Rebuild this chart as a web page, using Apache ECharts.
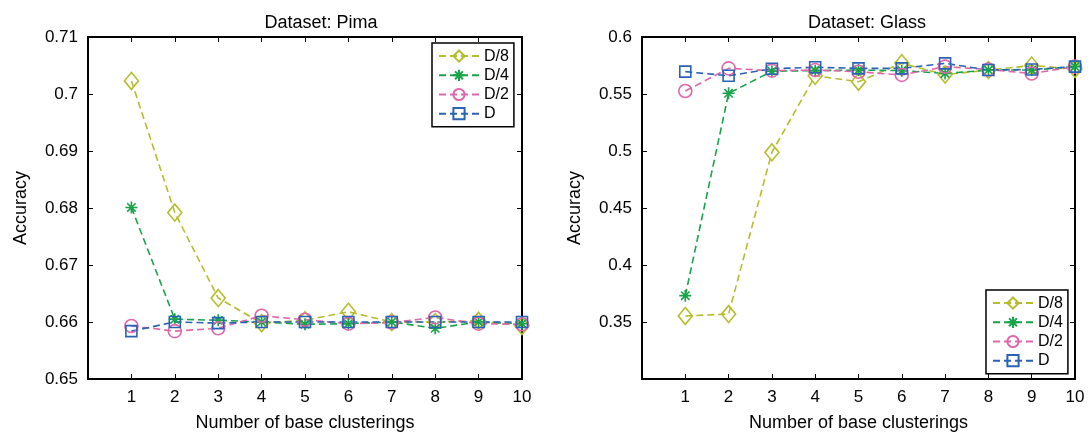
<!DOCTYPE html>
<html>
<head>
<meta charset="utf-8">
<script src="https://cdn.jsdelivr.net/npm/echarts@6/dist/echarts.min.js"></script>
<style>
html, body { margin: 0; padding: 0; background: #fff; }
#main { width: 1088px; height: 438px; }
</style>
</head>
<body>
<div id="main"></div>
<script>
var dom = document.getElementById("main");
var myChart = echarts.init(dom);

// number of base clusterings
var xValues = [1, 2, 3, 4, 5, 6, 7, 8, 9, 10];
var seriesNames = ['D/8', 'D/4', 'D/2', 'D'];

// Dataset: Pima
var pimaD8 = [0.7023, 0.6792, 0.6642, 0.6598, 0.6603, 0.6618, 0.6600, 0.6600, 0.6602, 0.6593];
var pimaD4 = [0.6801, 0.6605, 0.6603, 0.6600, 0.6596, 0.6597, 0.6600, 0.6589, 0.6600, 0.6597];
var pimaD2 = [0.6593, 0.6584, 0.6589, 0.6611, 0.6604, 0.6597, 0.6599, 0.6608, 0.6597, 0.6596];
var pimaD  = [0.6584, 0.6600, 0.6598, 0.6600, 0.6600, 0.6600, 0.6600, 0.6600, 0.6600, 0.6600];

// Dataset: Glass
var glassD8 = [0.3553, 0.3570, 0.4989, 0.5660, 0.5608, 0.5770, 0.5670, 0.5710, 0.5750, 0.5720];
var glassD4 = [0.3731, 0.5506, 0.5700, 0.5705, 0.5710, 0.5705, 0.5680, 0.5710, 0.5710, 0.5740];
var glassD2 = [0.5526, 0.5725, 0.5705, 0.5710, 0.5695, 0.5667, 0.5740, 0.5715, 0.5680, 0.5740];
var glassD  = [0.5696, 0.5660, 0.5721, 0.5734, 0.5725, 0.5725, 0.5769, 0.5710, 0.5715, 0.5740];

var colors = ['#b5bd2c', '#18a24a', '#de68aa', '#2a62b6'];
var symbols = [
    'diamond',
    'path://M0,-10L0,10M-10,0L10,0M-7,-7L7,7M-7,7L7,-7',
    'circle',
    'rect'
];
var symbolSizes = [[14, 17], 12, 13, 11];

var font = 'Liberation Sans, Arial, Helvetica, sans-serif';

function pairs(values) {
    return xValues.map(function (x, i) { return [x, values[i]]; });
}

function makeSeries(grid, data) {
    return data.map(function (values, k) {
        return {
            name: seriesNames[k],
            type: 'line',
            xAxisIndex: grid * 2,
            yAxisIndex: grid * 2,
            data: pairs(values),
            symbol: symbols[k],
            symbolSize: symbolSizes[k],
            showAllSymbol: true,
            animation: false,
            lineStyle: { color: colors[k], width: 1.6, type: [7, 4] },
            itemStyle: { color: 'none', borderColor: colors[k], borderWidth: 1.6 },
            emphasis: { disabled: true }
        };
    });
}

function xAxes(grid) {
    return [{
        type: 'value', gridIndex: grid, min: 0, max: 10, interval: 1,
        name: 'Number of base clusterings', nameLocation: 'middle', nameGap: 35,
        nameTextStyle: { fontFamily: font, fontSize: 18, color: '#000' },
        axisLine: { lineStyle: { color: '#000', width: 2 } },
        axisTick: { inside: true, length: 5, lineStyle: { color: '#000' } },
        axisLabel: { showMinLabel: false, fontFamily: font, fontSize: 17, color: '#000', margin: 10 },
        splitLine: { show: false }
    }, {
        type: 'value', gridIndex: grid, position: 'top', min: 0, max: 10, interval: 1,
        axisLine: { onZero: false, lineStyle: { color: '#000', width: 2 } },
        axisTick: { inside: true, length: 5, lineStyle: { color: '#000' } },
        axisLabel: { show: false },
        splitLine: { show: false }
    }];
}

function yAxes(grid, min, max, interval) {
    return [{
        type: 'value', gridIndex: grid, min: min, max: max, interval: interval,
        name: 'Accuracy', nameLocation: 'middle', nameGap: 58,
        nameTextStyle: { fontFamily: font, fontSize: 18, color: '#000' },
        axisLine: { show: true, lineStyle: { color: '#000', width: 2 } },
        axisTick: { show: true, inside: true, length: 5, lineStyle: { color: '#000' } },
        axisLabel: { showMinLabel: grid === 0, fontFamily: font, fontSize: 17, color: '#000', margin: 10 },
        splitLine: { show: false }
    }, {
        type: 'value', gridIndex: grid, position: 'right', min: min, max: max, interval: interval,
        axisLine: { show: true, onZero: false, lineStyle: { color: '#000', width: 2 } },
        axisTick: { show: true, inside: true, length: 5, lineStyle: { color: '#000' } },
        axisLabel: { show: false },
        splitLine: { show: false }
    }];
}

function makeLegend(pos) {
    return Object.assign({
        orient: 'vertical',
        data: seriesNames,
        selectedMode: false,
        backgroundColor: '#fff',
        borderColor: '#000',
        borderWidth: 1.5,
        padding: [5, 5, 5, 6],
        itemWidth: 40,
        itemHeight: 14,
        itemGap: 3,
        textStyle: { fontFamily: font, fontSize: 16, color: '#000' }
    }, pos);
}

option = {
    backgroundColor: '#fff',
    title: [{
        text: 'Dataset: Pima', left: 316, top: 9, textAlign: 'center',
        textStyle: { fontFamily: font, fontSize: 18, fontWeight: 'normal', color: '#000' }
    }, {
        text: 'Dataset: Glass', left: 862, top: 9, textAlign: 'center',
        textStyle: { fontFamily: font, fontSize: 18, fontWeight: 'normal', color: '#000' }
    }],
    legend: [
        makeLegend({ left: 432, top: 43 }),
        makeLegend({ left: 986, top: 290 })
    ],
    grid: [
        { left: 88, right: 566, top: 37, bottom: 59 },
        { left: 642, right: 13, top: 37, bottom: 59 }
    ],
    xAxis: xAxes(0).concat(xAxes(1)),
    yAxis: yAxes(0, 0.65, 0.71, 0.01).concat(yAxes(1, 0.3, 0.6, 0.05)),
    series: makeSeries(0, [pimaD8, pimaD4, pimaD2, pimaD])
        .concat(makeSeries(1, [glassD8, glassD4, glassD2, glassD]))
};
myChart.setOption(option, true);
</script>
</body>
</html>
